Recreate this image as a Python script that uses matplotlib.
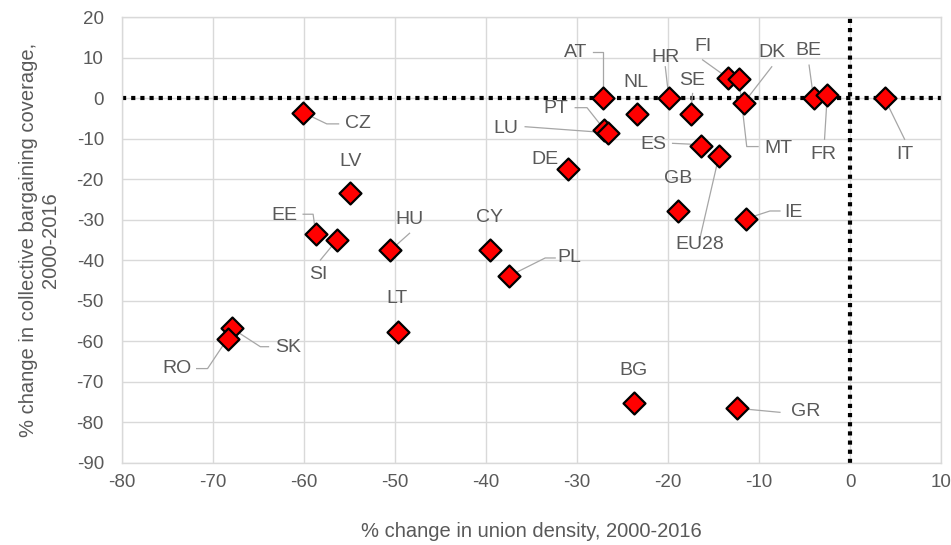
import matplotlib
matplotlib.use("Agg")
import matplotlib.pyplot as plt

plt.rcParams['font.family'] = ['Liberation Sans', 'DejaVu Sans']
plt.rcParams['axes.unicode_minus'] = False

countries = ["AT", "NL", "HR", "SE", "FI", "MT", "DK", "BE", "FR", "IT",
             "PT", "LU", "DE", "ES", "EU28", "GB", "IE",
             "CZ", "LV", "EE", "SI", "HU", "CY", "PL", "LT", "SK", "RO",
             "BG", "GR"]
union_density = [-27.1, -23.4, -19.9, -17.5, -13.4, -12.2, -11.7, -4.0, -2.5, 3.8,
                 -27.0, -26.6, -31.0, -16.4, -14.4, -18.9, -11.4,
                 -60.1, -55.0, -58.7, -56.4, -50.5, -39.6, -37.5, -49.7, -67.9, -68.4,
                 -23.7, -12.4]
bargaining_cov = [0.0, -3.8, 0.0, -3.8, 5.0, 4.8, -1.2, 0.0, 0.8, 0.0,
                  -7.7, -8.5, -17.5, -11.7, -14.2, -27.7, -29.7,
                  -3.5, -23.3, -33.6, -35.0, -37.5, -37.5, -43.9, -57.6, -56.8, -59.3,
                  -75.1, -76.5]
x_ticks = list(range(-80, 11, 10))
y_ticks = list(range(-90, 21, 10))

# label placement (data coords) and leader-line anchor points (layout only)
label_pos = {
    "AT": (-30.2, 11.4), "NL": (-23.5, 4.0), "HR": (-20.3, 10.2), "FI": (-16.2, 12.7),
    "SE": (-17.3, 4.5), "DK": (-8.6, 11.2), "BE": (-4.6, 11.9), "FR": (-2.9, -13.8),
    "IT": (6.0, -13.8), "MT": (-7.9, -12.3), "PT": (-32.3, -2.4), "LU": (-37.8, -7.4),
    "ES": (-21.6, -11.3), "DE": (-33.5, -15.2), "GB": (-18.9, -19.9), "EU28": (-16.5, -36.0),
    "IE": (-6.2, -28.1), "CY": (-39.6, -29.3), "PL": (-30.8, -39.4), "CZ": (-54.1, -6.3),
    "LV": (-54.9, -15.5), "EE": (-62.2, -28.8), "SI": (-58.4, -43.4), "HU": (-48.4, -29.8),
    "LT": (-49.8, -49.3), "SK": (-61.8, -61.4), "RO": (-74.0, -66.8), "BG": (-23.8, -67.1),
    "GR": (-4.9, -77.4),
}
leader_paths = {
    "AT": [(-28.2, 11.5), (-27.1, 11.5)],
    "HR": [(-20.3, 7.8)],
    "FI": [(-16.2, 9.5)],
    "SE": [(-17.3, 1.2)],
    "DK": [(-8.6, 7.8)],
    "BE": [(-4.5, 8.2)],
    "FR": [(-2.8, -10.1)],
    "IT": [(6.0, -10.1)],
    "MT": [(-10.1, -11.9), (-11.35, -11.9)],
    "PT": [(-30.2, -2.3), (-28.9, -2.3)],
    "LU": [(-35.7, -7.0)],
    "ES": [(-19.5, -11.1), (-17.6, -11.3)],
    "EU28": [(-16.5, -34.6)],
    "IE": [(-7.7, -27.8), (-8.8, -27.8)],
    "PL": [(-32.4, -39.4), (-33.5, -39.4)],
    "CZ": [(-56.2, -6.3), (-57.5, -6.3)],
    "EE": [(-60.1, -28.6), (-59.0, -28.6)],
    "SI": [(-58.2, -39.9)],
    "HU": [(-48.4, -33.3)],
    "SK": [(-63.9, -61.3), (-64.8, -61.3)],
    "RO": [(-71.8, -66.7), (-70.6, -66.7)],
    "GR": [(-7.7, -77.5)],
}

fig = plt.figure(figsize=(9.51, 5.45), dpi=100)
ax = fig.add_axes([0.1283, 0.1505, 0.8612, 0.8177])

grid_c = "#d9d9d9"
text_c = "#595959"

ax.set_xlim(-80, 10)
ax.set_ylim(-90, 20)
ax.set_xticks(x_ticks)
ax.set_yticks(y_ticks)
ax.grid(True, color=grid_c, lw=1.0, zorder=0)
ax.set_axisbelow(True)
for s in ax.spines.values():
    s.set_color(grid_c)
    s.set_linewidth(1.0)
ax.tick_params(length=0, labelsize=13.5, colors=text_c)
ax.tick_params(axis='y', pad=13)
ax.tick_params(axis='x', pad=8)

ax.axhline(0, color="black", lw=3.0, linestyle=(0, (1, 1.2)), zorder=2)
ax.axvline(0, color="black", lw=3.0, linestyle=(0, (1, 1.2)), zorder=2)

# leader lines
idx = {c: i for i, c in enumerate(countries)}
for c, pts in leader_paths.items():
    i = idx[c]
    xs = [p[0] for p in pts] + [union_density[i]]
    ys = [p[1] for p in pts] + [bargaining_cov[i]]
    ax.plot(xs, ys, color="#a6a6a6", lw=0.9, zorder=3)

ax.scatter(union_density, bargaining_cov, marker="D", s=125, c="#ff0000",
           edgecolors="black", linewidths=1.6, zorder=4)

for c in countries:
    lx, ly = label_pos[c]
    ax.text(lx, ly, c, ha="center", va="center", fontsize=14, color=text_c, zorder=5)

ax.set_xlabel("% change in union density, 2000-2016", fontsize=14.5, color=text_c, labelpad=22)
ax.set_ylabel("% change in collective bargaining coverage,\n2000-2016", fontsize=14.5,
              color=text_c, labelpad=12, linespacing=1.2)

fig.savefig("out.png", dpi=100)
